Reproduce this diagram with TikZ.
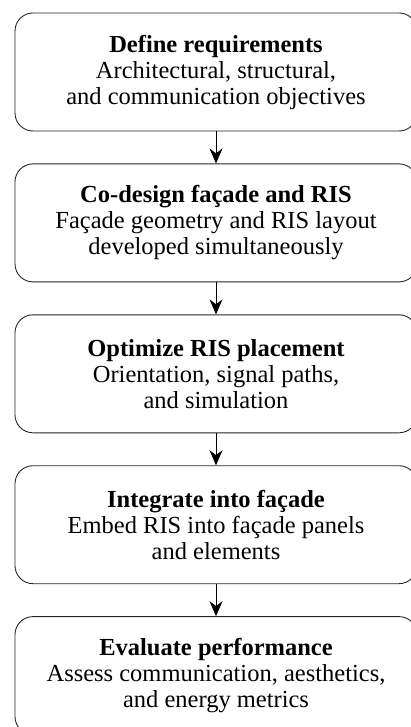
\documentclass[tikz,border=0pt]{standalone}
\usepackage{fontspec}
\setmainfont{Liberation Serif}
\usetikzlibrary{positioning,arrows.meta}

\begin{document}
\begin{tikzpicture}[x=1pt,y=1pt,
stage/.style={rectangle, draw=black!85, line width=0.9pt, rounded corners=18pt, align=center, minimum width=402pt, minimum height=118pt, font=\fontsize{24.5}{26}\selectfont},
flow/.style={-{Stealth[length=15pt,width=13pt]}, line width=0.9pt}]

\useasboundingbox (0,0) rectangle (411,-727);

% STAGES

\node [stage] (define) at (216,-72) {\textbf{Define requirements}\\ Architectural, structural,\\ and communication objectives};

\node [stage, below=32pt of define] (codesign) {\textbf{Co-design façade and RIS}\\ Façade geometry and RIS layout\\ developed simultaneously};

\node [stage, below=32pt of codesign] (optimize) {\textbf{Optimize RIS placement}\\ Orientation, signal paths,\\ and simulation};

\node [stage, below=32pt of optimize] (integrate) {\textbf{Integrate into façade}\\ Embed RIS into façade panels\\ and elements};

\node [stage, below=32pt of integrate] (evaluate) {\textbf{Evaluate performance}\\ Assess communication, aesthetics,\\ and energy metrics};

% ARROWS

\draw[flow] (define) -- (codesign);
\draw[flow] (codesign) -- (optimize);
\draw[flow] (optimize) -- (integrate);
\draw[flow] (integrate) -- (evaluate);

\end{tikzpicture}
\end{document}
